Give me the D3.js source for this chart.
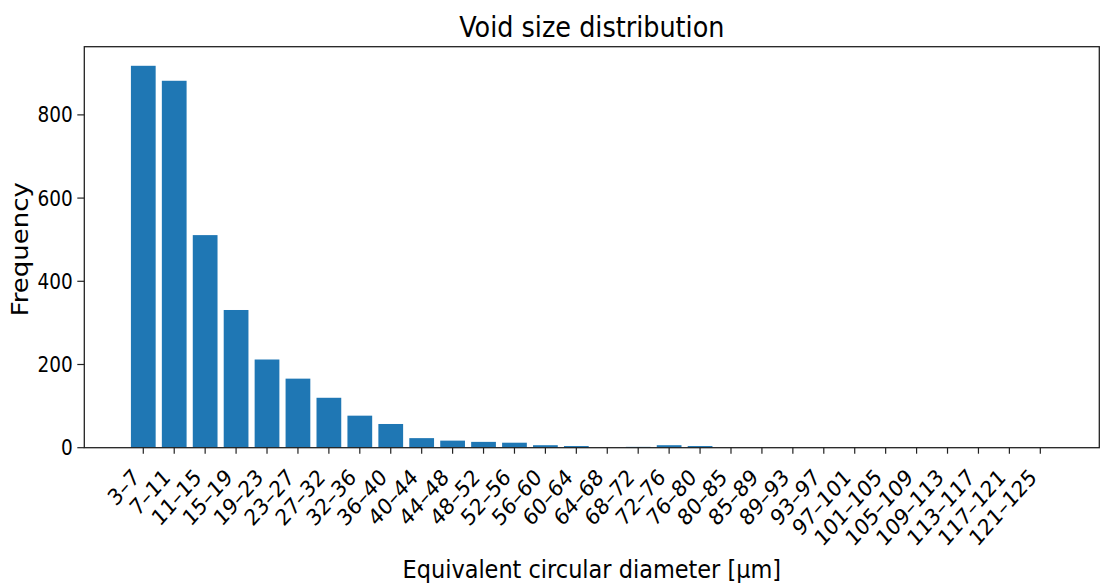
<!DOCTYPE html>
<html>
<head>
<meta charset="utf-8">
<script src="https://cdn.jsdelivr.net/npm/d3@7"></script>
<style>
  html, body { margin: 0; padding: 0; background: #fff; }
  svg { display: block; }
  text { font-family: "DejaVu Sans", sans-serif; fill: #000; }
</style>
</head>
<body>
<svg id="chart" width="1100" height="588"></svg>
<script>
// Bin labels (equivalent circular diameter ranges, µm)
const bins = ["3–7", "7–11", "11–15", "15–19", "19–23", "23–27", "27–32", "32–36",
  "36–40", "40–44", "44–48", "48–52", "52–56", "56–60", "60–64", "64–68", "68–72",
  "72–76", "76–80", "80–85", "85–89", "89–93", "93–97", "97–101", "101–105",
  "105–109", "109–113", "113–117", "117–121", "121–125"];

// Number of voids counted in each bin
const counts = [918, 882, 511, 331, 212, 166, 120, 77, 57, 23, 17, 14, 12, 6, 4,
  0, 2, 6, 4, 0, 0, 0, 0, 0, 0, 0, 0, 0, 0, 0];

const yTicks = [0, 200, 400, 600, 800];

const titleText = "Void size distribution";
const xLabelText = "Equivalent circular diameter [µm]";
const yLabelText = "Frequency";

const svg = d3.select("#chart");
const plot = { left: 84.3, right: 1099.3, top: 46.7, bottom: 447.7 };
const SX = 0.88;          // horizontal squeeze applied to all glyphs
const barColor = "#1f77b4";
const axisColor = "#222";

const pad = 1.907;
const x = d3.scaleLinear()
  .domain([-pad, bins.length - 1 + pad])
  .range([plot.left, plot.right]);
const unit = x(1) - x(0);

const y = d3.scaleLinear()
  .domain([0, d3.max(counts) * 1.05])
  .range([plot.bottom, plot.top]);

// Bars
svg.append("g")
  .selectAll("rect")
  .data(counts)
  .join("rect")
  .attr("x", (d, i) => x(i) - unit * 0.4)
  .attr("width", unit * 0.8)
  .attr("y", d => y(d))
  .attr("height", d => y(0) - y(d))
  .attr("fill", barColor);

// Frame
svg.append("rect")
  .attr("x", plot.left).attr("y", plot.top)
  .attr("width", plot.right - plot.left)
  .attr("height", plot.bottom - plot.top)
  .attr("fill", "none")
  .attr("stroke", axisColor)
  .attr("stroke-width", 1.3);

// X axis ticks and rotated labels
const xAxis = svg.append("g");
xAxis.selectAll("line")
  .data(bins)
  .join("line")
  .attr("x1", (d, i) => x(i)).attr("x2", (d, i) => x(i))
  .attr("y1", plot.bottom).attr("y2", plot.bottom + 6)
  .attr("stroke", axisColor).attr("stroke-width", 1.2);
xAxis.selectAll("text")
  .data(bins)
  .join("text")
  .attr("transform", (d, i) => `translate(${x(i) - 2.5},${plot.bottom + 31}) scale(${SX},1) rotate(-45)`)
  .attr("text-anchor", "end")
  .attr("font-size", 22.5)
  .text(d => d);

// Y axis ticks and labels
const yAxis = svg.append("g");
yAxis.selectAll("line")
  .data(yTicks)
  .join("line")
  .attr("x1", plot.left - 7).attr("x2", plot.left)
  .attr("y1", d => y(d)).attr("y2", d => y(d))
  .attr("stroke", axisColor).attr("stroke-width", 1.2);
yAxis.selectAll("text")
  .data(yTicks)
  .join("text")
  .attr("transform", d => `translate(${plot.left - 11.5},${y(d) + 7.5}) scale(${SX},1)`)
  .attr("text-anchor", "end")
  .attr("font-size", 21)
  .text(d => d);

const cx = (plot.left + plot.right) / 2;

// Title
svg.append("text")
  .attr("transform", `translate(${cx},36.7) scale(${SX},1)`)
  .attr("text-anchor", "middle")
  .attr("font-size", 29)
  .text(titleText);

// Axis titles
svg.append("text")
  .attr("transform", `translate(${cx},578.3) scale(${SX},1)`)
  .attr("text-anchor", "middle")
  .attr("font-size", 25.5)
  .text(xLabelText);

svg.append("text")
  .attr("transform", `translate(28,${(plot.top + plot.bottom) / 2 + 2}) scale(${SX},1) rotate(-90)`)
  .attr("text-anchor", "middle")
  .attr("font-size", 26)
  .text(yLabelText);
</script>
</body>
</html>
